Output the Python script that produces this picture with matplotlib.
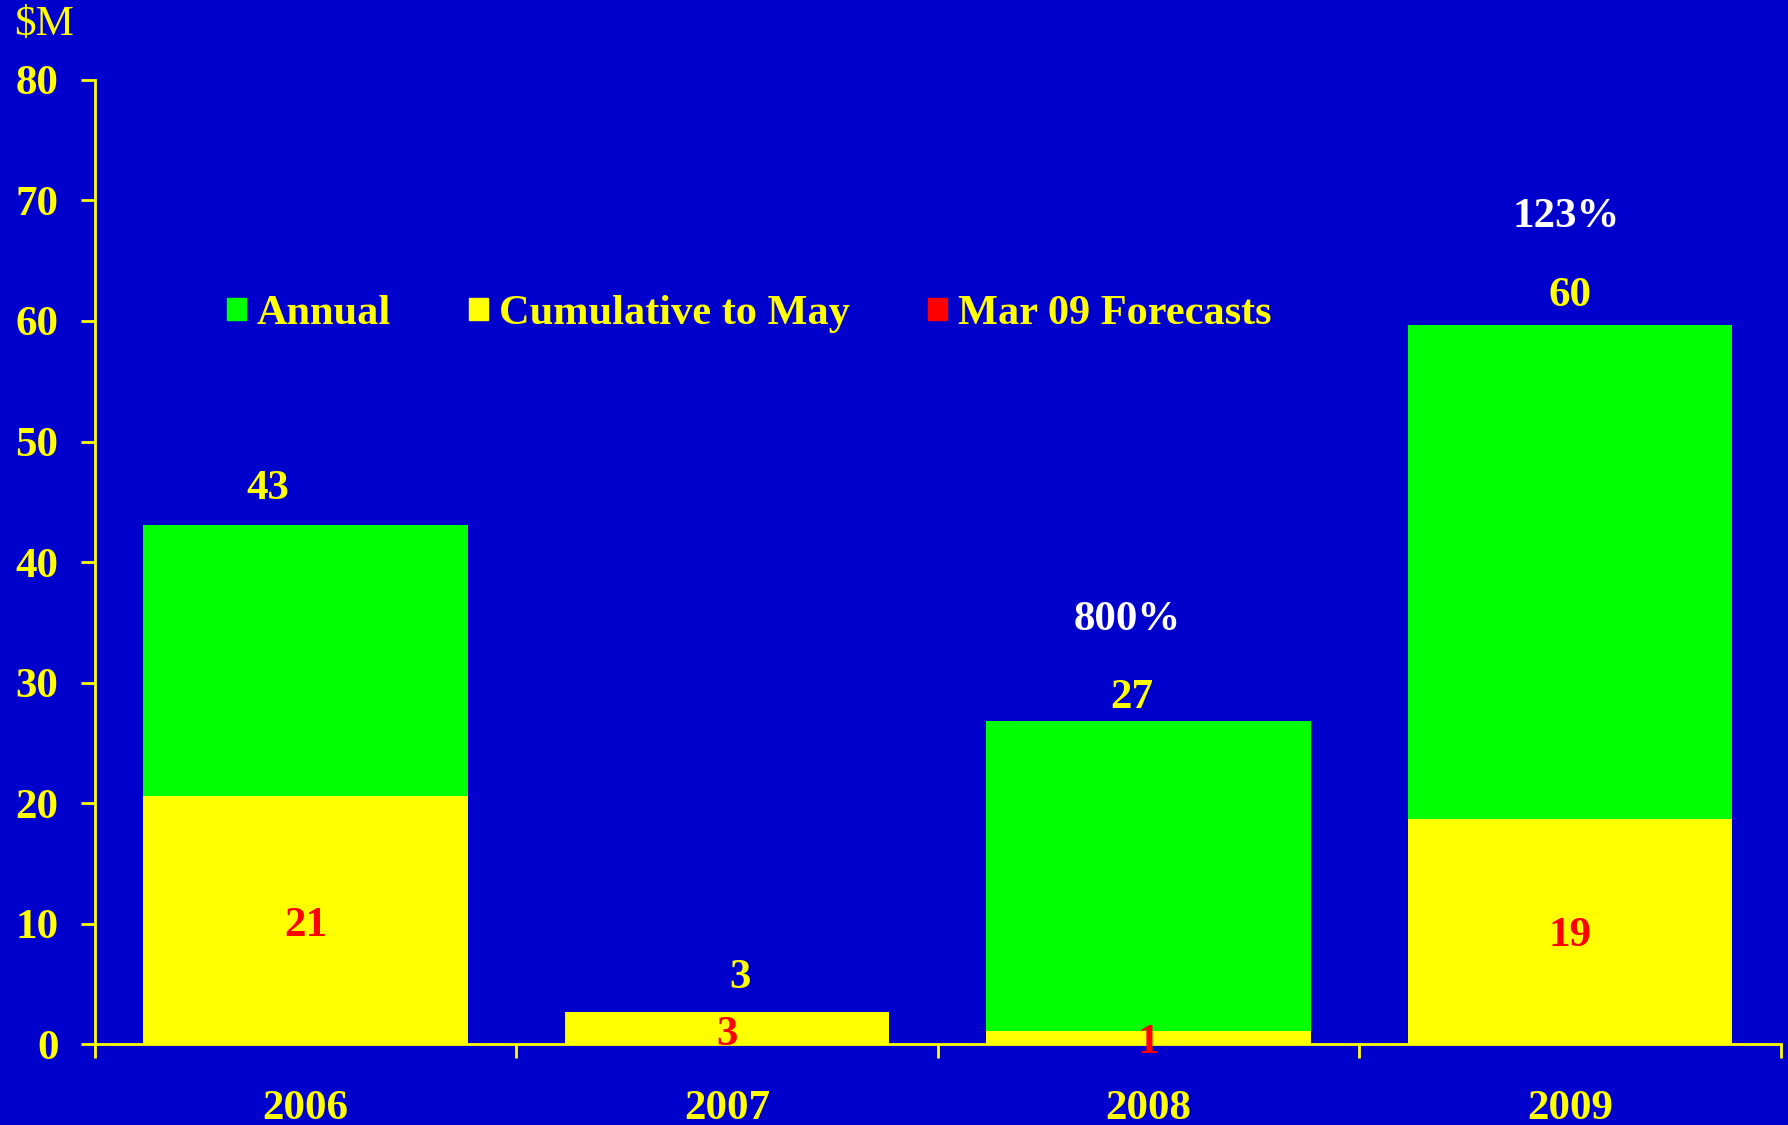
import matplotlib
matplotlib.use("Agg")
import matplotlib.pyplot as plt
from matplotlib.patches import Patch

# data ($M)
years = ["2006", "2007", "2008", "2009"]
annual = [43.1, 2.65, 26.8, 59.7]
cumulative_may = [20.6, 2.65, 1.15, 18.7]
annual_labels = ["43", "3", "27", "60"]
cumul_labels = ["21", "3", "1", "19"]
growth_labels = ["", "", "800%", "123%"]

BG = "#0000CC"
YEL = "#FFFF00"
GRN = "#00FF00"
RED = "#FF0000"
FONT = "Liberation Serif"
FS = 31

plt.rcParams["font.family"] = FONT
plt.rcParams["font.weight"] = "bold"

fig = plt.figure(figsize=(17.88, 11.25), dpi=100, facecolor=BG)
ax = fig.add_axes([0.0529, 0.0716, 0.9431, 0.8575], facecolor=BG)

x = list(range(len(years)))
ax.bar(x, annual, width=0.77, color=GRN, linewidth=0)
ax.bar(x, cumulative_may, width=0.77, color=YEL, linewidth=0)

# value labels
ann_off = [(-0.09, 3.0), (0.03, 2.9), (-0.04, 1.9), (0.0, 2.4)]
for i, v in enumerate(annual):
    ax.text(i + ann_off[i][0], v + ann_off[i][1], annual_labels[i], color=YEL,
            fontsize=FS, ha="center", va="center", fontweight="bold")
cum_y = [9.8, 0.8, 0.1, 9.0]
for i in x:
    ax.text(i, cum_y[i], cumul_labels[i], color=RED, fontsize=FS,
            ha="center", va="center", fontweight="bold")
grow_pos = [None, None, (1.95, 35.2), (2.99, 68.6)]
for i in x:
    if growth_labels[i]:
        ax.text(grow_pos[i][0], grow_pos[i][1], growth_labels[i], color="white",
                fontsize=FS, ha="center", va="center", fontweight="bold")

# category labels under the axis
for i in x:
    ax.text(i, -5.35, years[i], color=YEL, fontsize=FS, ha="center",
            va="center", fontweight="bold", clip_on=False)

ax.set_xlim(-0.5, 3.5)
ax.set_ylim(0, 80)
ax.set_yticks(range(0, 81, 10))
ax.set_xticks([-0.5, 0.5, 1.5, 2.5, 3.5])
ax.set_xticklabels([])

for side in ["top", "right"]:
    ax.spines[side].set_visible(False)
for side in ["left", "bottom"]:
    ax.spines[side].set_color(YEL)
    ax.spines[side].set_linewidth(2)

ax.tick_params(axis="y", direction="out", length=10, width=2, color=YEL,
               labelcolor=YEL, labelsize=FS, pad=16)
ax.tick_params(axis="x", direction="out", length=10, width=2, color=YEL)
for lab in ax.get_yticklabels():
    lab.set_fontweight("bold")

fig.text(0.008, 0.978, "$M", color=YEL, fontsize=FS, fontweight="normal",
         ha="left", va="center")

handles = [Patch(color=GRN), Patch(color=YEL), Patch(color=RED)]
leg = ax.legend(handles, ["Annual", "Cumulative to May", "Mar 09 Forecasts"],
                loc="center left", bbox_to_anchor=(0.066, 0.757), ncol=3,
                frameon=False, borderpad=0, handlelength=0.45, handleheight=0.45,
                handletextpad=0.25, columnspacing=1.85,
                prop={"family": FONT, "weight": "bold", "size": 30.5})
for t in leg.get_texts():
    t.set_color(YEL)

fig.savefig("out.png", dpi=100, facecolor=BG)
